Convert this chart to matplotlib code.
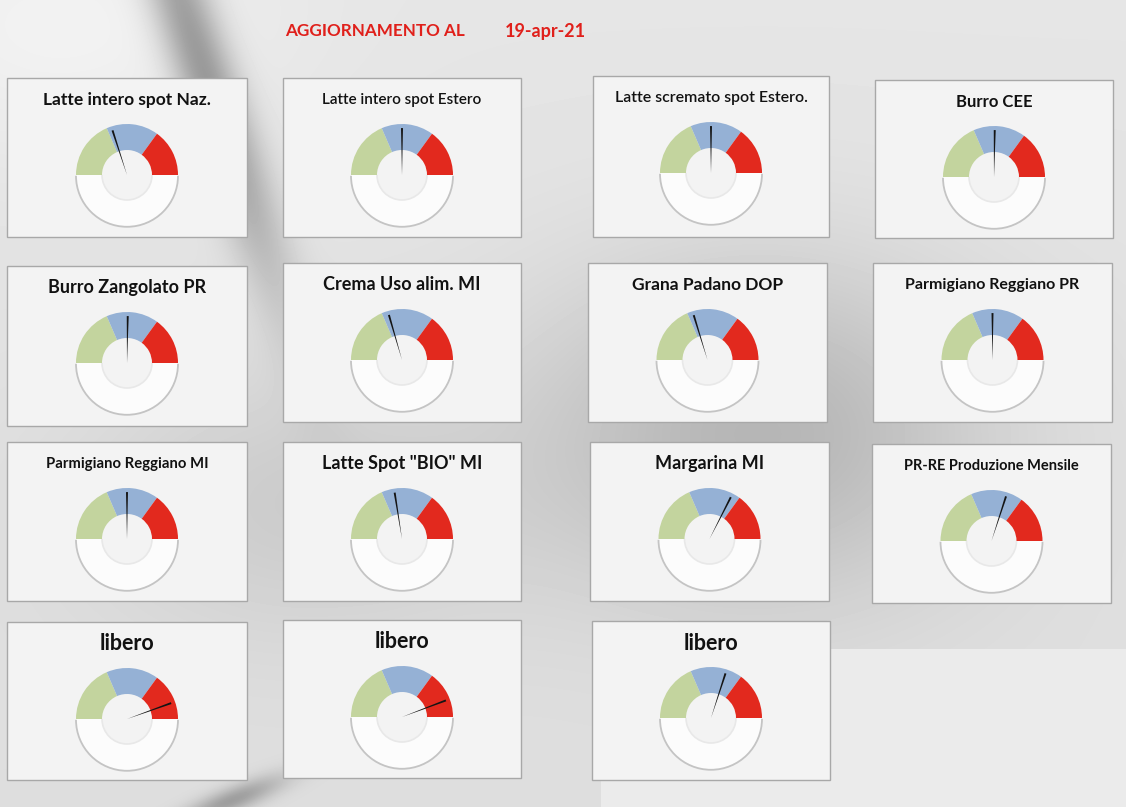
import numpy as np
import matplotlib.pyplot as plt
from matplotlib.patches import Rectangle, Wedge, Arc

# Dati dei contatori
titoli = ['Latte intero spot Naz.', 'Latte intero spot Estero', 'Latte scremato spot Estero.', 'Burro CEE',
          'Burro Zangolato PR', 'Crema Uso alim. MI', 'Grana Padano DOP', 'Parmigiano Reggiano PR',
          'Parmigiano Reggiano MI', 'Latte Spot "BIO" MI', 'Margarina MI', 'PR-RE Produzione Mensile',
          'libero', 'libero', 'libero']
valori_lancetta = [40, 50, 50, 50.5, 50.5, 41, 40.5, 50, 50, 45, 65, 60, 89, 88.5, 60]
fasce = [37, 33, 30]  # verde, blu, rosso (percentuale del semicerchio)
colori_fasce = ['#c3d49e', '#95b1d5', '#e2291e']
data_agg = '19-apr-21'

# Layout (pixel dell'immagine): x0, y0, x1, y1 dei riquadri
riquadri = [(7, 78, 247, 237), (283, 78, 521, 237), (593, 76, 829, 237), (875, 80, 1113, 238),
            (7, 266, 247, 426), (283, 263, 521, 422), (588, 263, 827, 422), (873, 263, 1112, 422),
            (7, 442, 247, 601), (283, 442, 521, 601), (590, 442, 829, 601), (872, 444, 1111, 603),
            (7, 622, 247, 780), (283, 620, 521, 778), (592, 621, 830, 780)]
stile_titoli = [(12.5, 'bold'), (11, 'semibold'), (11.4, 'semibold'), (12, 'bold'),
                (13, 'bold'), (13, 'bold'), (12.5, 'bold'), (11.5, 'bold'),
                (10.7, 'bold'), (13, 'bold'), (13, 'bold'), (10.5, 'bold'),
                (15.5, 'bold'), (15.5, 'bold'), (15.5, 'bold')]

W, H = 1126, 807
R_EXT, R_INT = 51, 25

plt.rcParams['font.family'] = ['Lato', 'DejaVu Sans']
fig = plt.figure(figsize=(W / 100, H / 100), dpi=100)
ax = fig.add_axes([0, 0, 1, 1])
ax.set_xlim(0, W)
ax.set_ylim(H, 0)
ax.set_aspect('equal')
ax.axis('off')

# Sfondo grigio sfumato (al posto della foto)
yy, xx = np.mgrid[0:H, 0:W]
sfondo = 0.90 - 0.03 * (yy / H)
# striscia diagonale scura in alto a sinistra
d = xx - (180 + yy * 0.33)
sfondo -= 0.32 * np.exp(-(d / 32.0) ** 2) * np.exp(-((yy - 60) / 220.0) ** 2)
# striscia in basso
d2 = (xx - 240) + (yy - 795) * 1.8
sfondo -= 0.25 * np.exp(-(d2 / 30.0) ** 2) * np.exp(-((yy - 800) / 25.0) ** 2)
# nuvole grigie centrali
sfondo -= 0.17 * np.exp(-(((xx - 760) / 230.0) ** 2 + ((yy - 430) / 170.0) ** 2))
sfondo -= 0.08 * np.exp(-(((xx - 300) / 220.0) ** 2 + ((yy - 500) / 140.0) ** 2))
sfondo += 0.05 * np.exp(-(((xx - 60) / 200.0) ** 2 + ((yy - 30) / 120.0) ** 2))
basso = (yy > 648) & (xx > 600)
sfondo[basso] = 0.92
ax.imshow(np.clip(sfondo, 0, 1), cmap='gray', vmin=0, vmax=1, extent=[0, W, H, 0], zorder=0)

# Intestazione
ax.text(285, 31, 'AGGIORNAMENTO AL', color='#e0201b', fontsize=12.3, fontweight='bold', va='center', ha='left')
ax.text(505, 31, data_agg, color='#e0201b', fontsize=13, fontweight='bold', va='center', ha='left')

for titolo, valore, (x0, y0, x1, y1), (fs, fw) in zip(titoli, valori_lancetta, riquadri, stile_titoli):
    ax.add_patch(Rectangle((x0, y0), x1 - x0, y1 - y0, facecolor='#f3f3f3', edgecolor='#a8a8a8', lw=1, zorder=1))
    cx = (x0 + x1) / 2
    cy = y0 + 97
    ax.text(cx, y0 + 22, titolo, ha='center', va='center', fontsize=fs, fontweight=fw, color='#111111', zorder=3)

    # semicerchio inferiore bianco (asse y invertito: angoli negativi = sopra)
    ax.add_patch(Wedge((cx, cy), R_EXT, 0, 180, width=R_EXT - R_INT, facecolor='#fcfcfc', edgecolor='none', zorder=2))
    ax.add_patch(Arc((cx, cy + 0.8), 2 * R_EXT, 2 * R_EXT, theta1=0, theta2=180, color='#c4c4c4', lw=1.3, zorder=2))
    ax.add_patch(Arc((cx, cy), 2 * R_INT, 2 * R_INT, theta1=0, theta2=180, color='#e8e8e8', lw=1.2, zorder=2))

    # fasce colorate del quadrante
    a = 180.0
    for quota, col in zip(fasce, colori_fasce):
        b = a - quota * 1.8
        ax.add_patch(Wedge((cx, cy), R_EXT, -a, -b, width=R_EXT - R_INT, facecolor=col, edgecolor='none', zorder=2))
        a = b

    # lancetta
    ang = 180 - valore * 1.8
    ax.add_patch(Wedge((cx, cy), R_EXT * 0.92, -(ang + 1.2), -(ang - 1.2), facecolor='#141414', edgecolor='none', zorder=4))

fig.savefig('out.png', dpi=100)
plt.close()
